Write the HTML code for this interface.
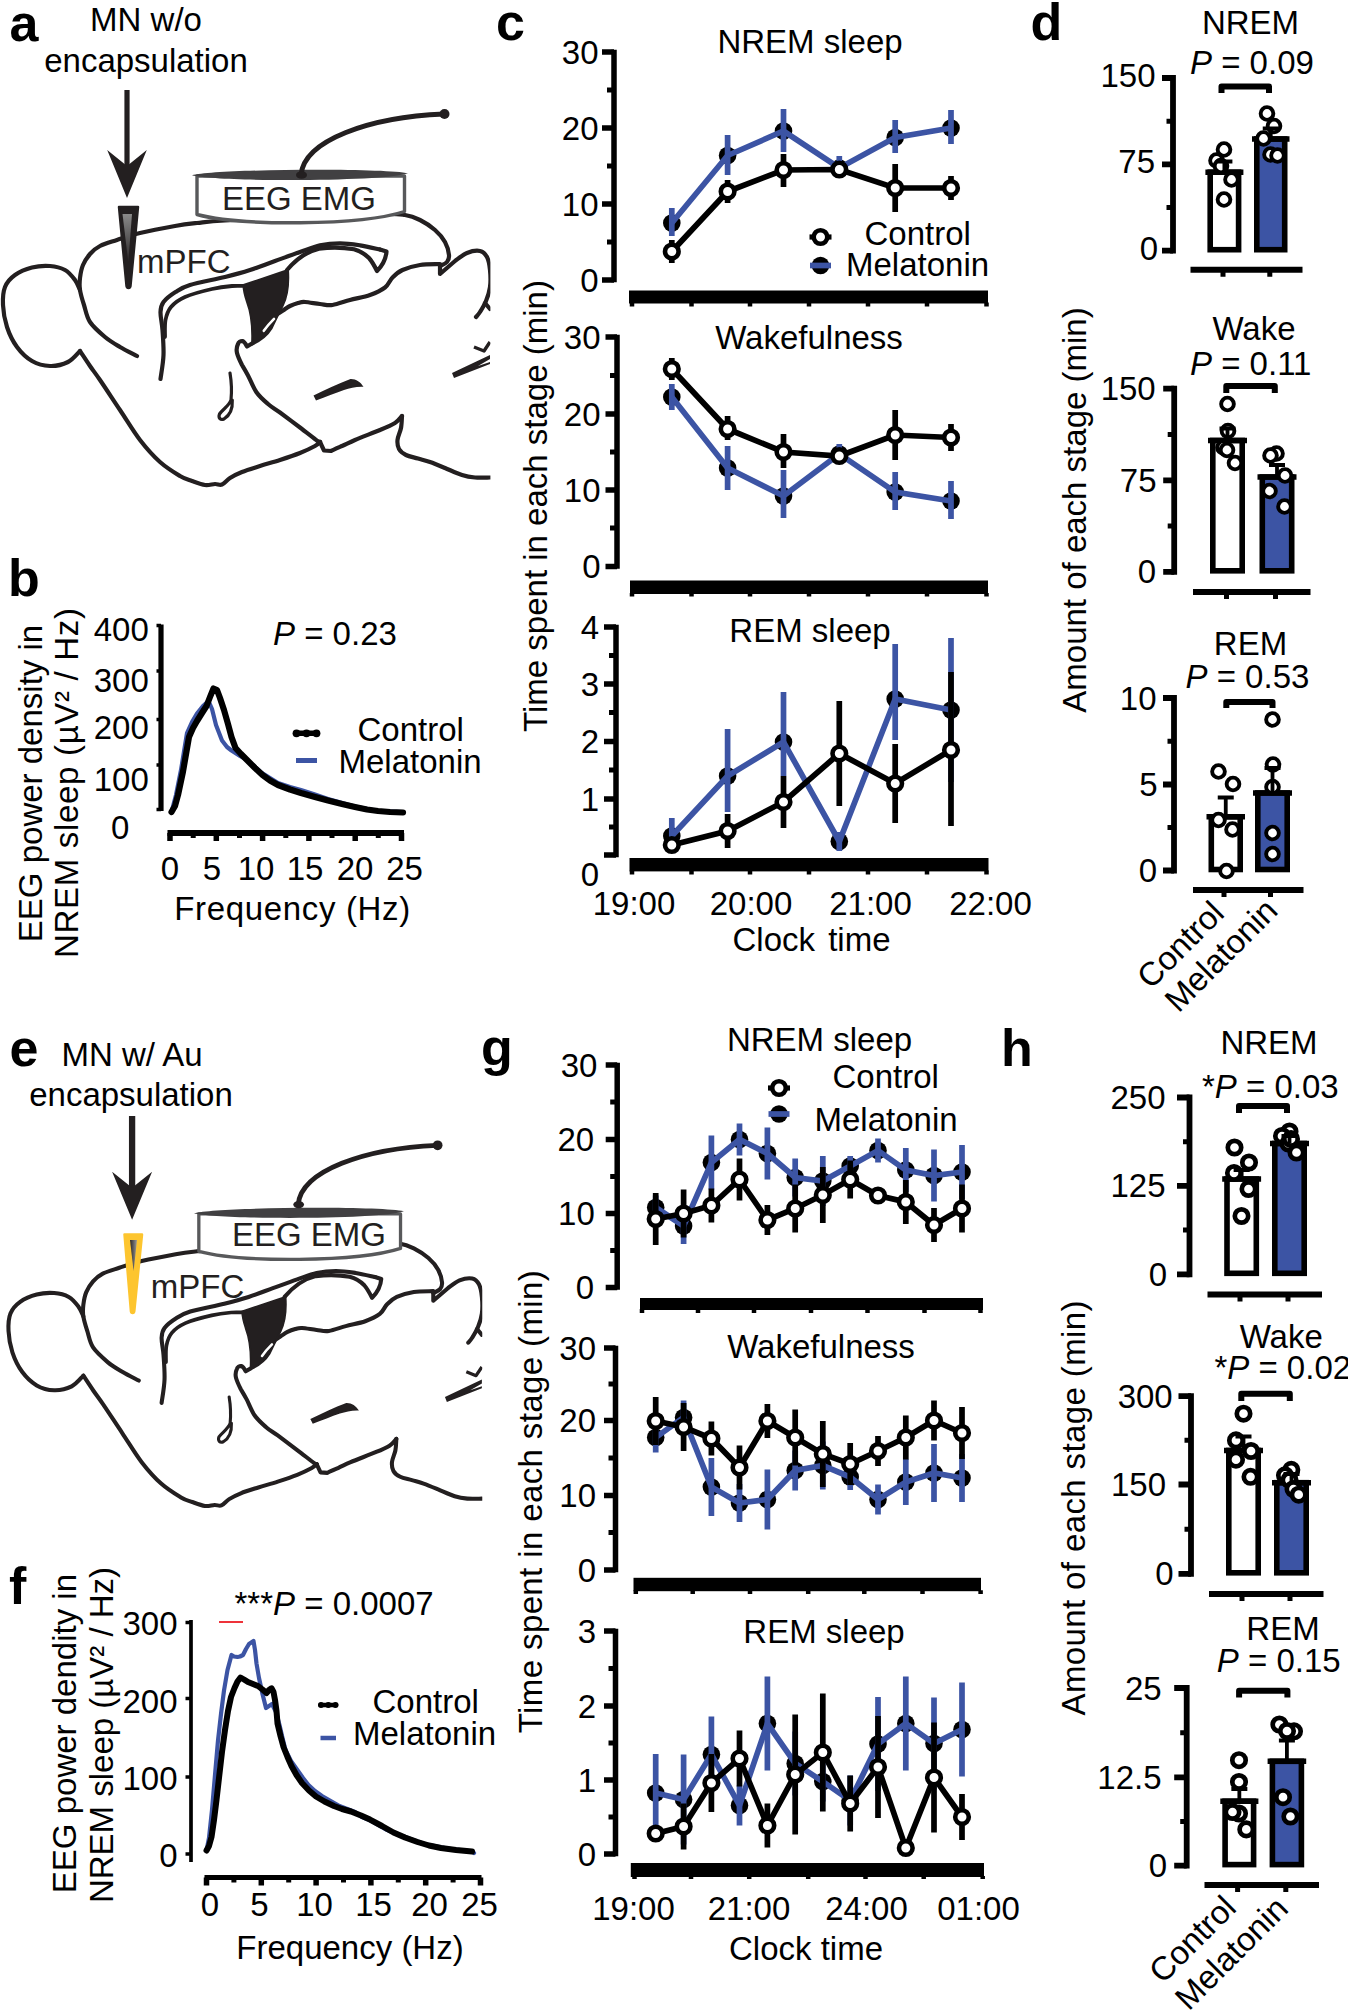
<!DOCTYPE html>
<html><head><meta charset="utf-8"><title>figure</title>
<style>html,body{margin:0;padding:0;background:#fff}svg{display:block}text{font-family:"Liberation Sans",sans-serif;fill:#000}</style>
</head><body>
<svg width="1348" height="2011" viewBox="0 0 1348 2011">
<rect width="1348" height="2011" fill="#fff"/>
<text x="9.5" y="40.5" font-size="52" font-weight="bold">a</text>
<text x="8" y="596" font-size="52" font-weight="bold">b</text>
<text x="496" y="40" font-size="52" font-weight="bold">c</text>
<text x="1030.5" y="40" font-size="52" font-weight="bold">d</text>
<text x="9.5" y="1066" font-size="52" font-weight="bold">e</text>
<text x="9" y="1603.5" font-size="52" font-weight="bold">f</text>
<text x="481" y="1065" font-size="52" font-weight="bold">g</text>
<text x="1001" y="1066" font-size="52" font-weight="bold">h</text>
<g id="panelC">
<path d="M614 49.75V282.25" stroke="#000" stroke-width="5.5" fill="none"/>
<path d="M602 52H614M602 128H614M602 204H614M602 280H614" stroke="#000" stroke-width="5.5" fill="none"/>
<path d="M607 90H614M607 166H614M607 242H614" stroke="#000" stroke-width="5.2" fill="none"/>
<text x="598.5" y="63.5" font-size="33" text-anchor="end">30</text>
<text x="598.5" y="139.5" font-size="33" text-anchor="end">20</text>
<text x="598.5" y="215.5" font-size="33" text-anchor="end">10</text>
<text x="598.5" y="291.5" font-size="33" text-anchor="end">0</text>
<rect x="629" y="290.5" width="359" height="13.0" fill="#000"/>
<path d="M632 302.5V306.5M691.5 302.5V306.5M750 302.5V306.5M809 302.5V306.5M868 302.5V306.5M927 302.5V306.5M986.5 302.5V306.5" stroke="#000" stroke-width="4.5" fill="none"/>
<text x="810" y="53" font-size="33" text-anchor="middle">NREM sleep</text>
<circle cx="671.8" cy="223" r="8.799999999999999" fill="#000"/>
<circle cx="727.6" cy="155.5" r="8.799999999999999" fill="#000"/>
<circle cx="783.5" cy="131" r="8.799999999999999" fill="#000"/>
<circle cx="839.3" cy="168" r="8.799999999999999" fill="#000"/>
<circle cx="895.2" cy="137.5" r="8.799999999999999" fill="#000"/>
<circle cx="951" cy="128" r="8.799999999999999" fill="#000"/>
<path d="M671.8 208V236M727.6 135V175M783.5 109V152M839.3 156V169M895.2 120V153M951 110V144" stroke="#3c54a4" stroke-width="5.7" fill="none"/>
<polyline points="671.8,223 727.6,155.5 783.5,131 839.3,168 895.2,137.5 951,128" stroke="#3c54a4" stroke-width="5.7" fill="none" stroke-linejoin="miter"/>
<path d="M671.8 240V263M727.6 180V203M783.5 154V187M839.3 164V175M895.2 164V212M951 176V200" stroke="#000" stroke-width="5.7" fill="none"/>
<polyline points="671.8,251.5 727.6,191.5 783.5,170 839.3,169.5 895.2,188 951,188" stroke="#000" stroke-width="5.7" fill="none" stroke-linejoin="miter"/>
<circle cx="671.8" cy="251.5" r="6.8" fill="#fff" stroke="#000" stroke-width="4.6"/>
<circle cx="727.6" cy="191.5" r="6.8" fill="#fff" stroke="#000" stroke-width="4.6"/>
<circle cx="783.5" cy="170" r="6.8" fill="#fff" stroke="#000" stroke-width="4.6"/>
<circle cx="839.3" cy="169.5" r="6.8" fill="#fff" stroke="#000" stroke-width="4.6"/>
<circle cx="895.2" cy="188" r="6.8" fill="#fff" stroke="#000" stroke-width="4.6"/>
<circle cx="951" cy="188" r="6.8" fill="#fff" stroke="#000" stroke-width="4.6"/>
<path d="M809.5 237H831.5" stroke="#000" stroke-width="5.2"/>
<circle cx="820.5" cy="237" r="6.8" fill="#fff" stroke="#000" stroke-width="4.6"/>
<circle cx="820.5" cy="265.5" r="8.799999999999999" fill="#000"/>
<path d="M810.0 265.5H831.0" stroke="#3c54a4" stroke-width="5.7"/>
<text x="864.5" y="245" font-size="33">Control</text>
<text x="846" y="275.5" font-size="33">Melatonin</text>
<path d="M617 334.75V568.75" stroke="#000" stroke-width="5.5" fill="none"/>
<path d="M605.5 337H617M605.5 414H617M605.5 490H617M605.5 566.5H617" stroke="#000" stroke-width="5.5" fill="none"/>
<path d="M610 375.5H617M610 452H617M610 528H617" stroke="#000" stroke-width="5.2" fill="none"/>
<text x="600.5" y="348.5" font-size="33" text-anchor="end">30</text>
<text x="600.5" y="425.5" font-size="33" text-anchor="end">20</text>
<text x="600.5" y="501.5" font-size="33" text-anchor="end">10</text>
<text x="600.5" y="578.0" font-size="33" text-anchor="end">0</text>
<rect x="630" y="580.5" width="358" height="13.5" fill="#000"/>
<path d="M632 593V596.5M691.5 593V596.5M750 593V596.5M809 593V596.5M868 593V596.5M927 593V596.5M986.5 593V596.5" stroke="#000" stroke-width="4.5" fill="none"/>
<text x="809" y="349" font-size="33" text-anchor="middle">Wakefulness</text>
<circle cx="671.8" cy="397" r="8.799999999999999" fill="#000"/>
<circle cx="727.6" cy="468" r="8.799999999999999" fill="#000"/>
<circle cx="783.5" cy="496" r="8.799999999999999" fill="#000"/>
<circle cx="839.3" cy="454" r="8.799999999999999" fill="#000"/>
<circle cx="895.2" cy="492" r="8.799999999999999" fill="#000"/>
<circle cx="951" cy="501" r="8.799999999999999" fill="#000"/>
<path d="M671.8 384V410M727.6 446V490M783.5 470V518M839.3 444V460M895.2 472V510M951 481V519" stroke="#3c54a4" stroke-width="5.7" fill="none"/>
<polyline points="671.8,397 727.6,468 783.5,496 839.3,454 895.2,492 951,501" stroke="#3c54a4" stroke-width="5.7" fill="none" stroke-linejoin="miter"/>
<path d="M671.8 358V380M727.6 416V440M783.5 434V468M839.3 450V462M895.2 410V460M951 424V451" stroke="#000" stroke-width="5.7" fill="none"/>
<polyline points="671.8,369 727.6,429 783.5,452 839.3,456 895.2,435 951,437.5" stroke="#000" stroke-width="5.7" fill="none" stroke-linejoin="miter"/>
<circle cx="671.8" cy="369" r="6.8" fill="#fff" stroke="#000" stroke-width="4.6"/>
<circle cx="727.6" cy="429" r="6.8" fill="#fff" stroke="#000" stroke-width="4.6"/>
<circle cx="783.5" cy="452" r="6.8" fill="#fff" stroke="#000" stroke-width="4.6"/>
<circle cx="839.3" cy="456" r="6.8" fill="#fff" stroke="#000" stroke-width="4.6"/>
<circle cx="895.2" cy="435" r="6.8" fill="#fff" stroke="#000" stroke-width="4.6"/>
<circle cx="951" cy="437.5" r="6.8" fill="#fff" stroke="#000" stroke-width="4.6"/>
<path d="M616 624.75V857.25" stroke="#000" stroke-width="5.5" fill="none"/>
<path d="M604 627H616M604 684H616M604 741.5H616M604 799H616M604 855H616" stroke="#000" stroke-width="5.5" fill="none"/>
<path d="M609 655.5H616M609 712.5H616M609 770H616M609 827H616" stroke="#000" stroke-width="5.2" fill="none"/>
<text x="599" y="638.5" font-size="33" text-anchor="end">4</text>
<text x="599" y="695.5" font-size="33" text-anchor="end">3</text>
<text x="599" y="753.0" font-size="33" text-anchor="end">2</text>
<text x="599" y="810.5" font-size="33" text-anchor="end">1</text>
<text x="599" y="885.5" font-size="33" text-anchor="end">0</text>
<rect x="629.5" y="858" width="359.0" height="13.399999999999977" fill="#000"/>
<path d="M632 870.4V874.5M691.5 870.4V874.5M750 870.4V874.5M809 870.4V874.5M868 870.4V874.5M927 870.4V874.5M986.5 870.4V874.5" stroke="#000" stroke-width="4.5" fill="none"/>
<text x="810" y="642" font-size="33" text-anchor="middle">REM sleep</text>
<circle cx="671.8" cy="836" r="8.799999999999999" fill="#000"/>
<circle cx="727.6" cy="776" r="8.799999999999999" fill="#000"/>
<circle cx="783.5" cy="742" r="8.799999999999999" fill="#000"/>
<circle cx="839.3" cy="841.5" r="8.799999999999999" fill="#000"/>
<circle cx="895.2" cy="699" r="8.799999999999999" fill="#000"/>
<circle cx="951" cy="710" r="8.799999999999999" fill="#000"/>
<path d="M671.8 818V840M727.6 729V812M783.5 692V776M839.3 832V851M895.2 644V740M951 638V782" stroke="#3c54a4" stroke-width="5.7" fill="none"/>
<polyline points="671.8,836 727.6,776 783.5,742 839.3,841.5 895.2,699 951,710" stroke="#3c54a4" stroke-width="5.7" fill="none" stroke-linejoin="miter"/>
<path d="M671.8 840V850M727.6 814V848M783.5 776V828M839.3 701V806M895.2 744V823M951 672V826" stroke="#000" stroke-width="5.7" fill="none"/>
<polyline points="671.8,845 727.6,831 783.5,802 839.3,753.5 895.2,783.5 951,750" stroke="#000" stroke-width="5.7" fill="none" stroke-linejoin="miter"/>
<circle cx="671.8" cy="845" r="6.8" fill="#fff" stroke="#000" stroke-width="4.6"/>
<circle cx="727.6" cy="831" r="6.8" fill="#fff" stroke="#000" stroke-width="4.6"/>
<circle cx="783.5" cy="802" r="6.8" fill="#fff" stroke="#000" stroke-width="4.6"/>
<circle cx="839.3" cy="753.5" r="6.8" fill="#fff" stroke="#000" stroke-width="4.6"/>
<circle cx="895.2" cy="783.5" r="6.8" fill="#fff" stroke="#000" stroke-width="4.6"/>
<circle cx="951" cy="750" r="6.8" fill="#fff" stroke="#000" stroke-width="4.6"/>
<text x="634" y="914.5" font-size="33" text-anchor="middle">19:00</text>
<text x="751" y="914.5" font-size="33" text-anchor="middle">20:00</text>
<text x="870.5" y="914.5" font-size="33" text-anchor="middle">21:00</text>
<text x="990.5" y="914.5" font-size="33" text-anchor="middle">22:00</text>
<text x="811.5" y="950.5" font-size="33" text-anchor="middle" word-spacing="4">Clock time</text>
<text x="546.5" y="506" font-size="33" text-anchor="middle" transform="rotate(-90 546.5 506)">Time spent in each stage (min)</text>
</g>
<g id="panelD">
<path d="M1173 75.1V253.6" stroke="#000" stroke-width="5.8" fill="none"/>
<path d="M1162 78H1173M1162 164.3H1173M1162 250.7H1173" stroke="#000" stroke-width="5.8" fill="none"/>
<path d="M1166.5 121.15H1173M1166.5 207.5H1173" stroke="#000" stroke-width="5" fill="none"/>
<text x="1155.5" y="87" font-size="33" text-anchor="end">150</text>
<text x="1155" y="173.3" font-size="33" text-anchor="end">75</text>
<text x="1158" y="259.7" font-size="33" text-anchor="end">0</text>
<path d="M1190.5 269.8H1302.5" stroke="#000" stroke-width="6" fill="none"/>
<path d="M1223 269.8V276.8M1269.8 269.8V276.8" stroke="#000" stroke-width="5" fill="none"/>
<rect x="1210.2" y="172.2" width="28.4" height="77.5" fill="#fff" stroke="#000" stroke-width="5.6"/>
<rect x="1256.8" y="139" width="27.9" height="110.69999999999999" fill="#3c54a4" stroke="#000" stroke-width="5.6"/>
<path d="M1205.4 172.2H1243.4M1252 139H1289.5" stroke="#000" stroke-width="5.6"/>
<path d="M1221.5 93V86.5H1269V93" stroke="#000" stroke-width="6" fill="none" stroke-linejoin="round"/>
<circle cx="1224" cy="149.5" r="6.35" fill="#fff" stroke="#000" stroke-width="3.9"/>
<circle cx="1216.5" cy="160.5" r="6.35" fill="#fff" stroke="#000" stroke-width="3.9"/>
<circle cx="1231.5" cy="179.5" r="6.35" fill="#fff" stroke="#000" stroke-width="3.9"/>
<circle cx="1224" cy="199.5" r="6.35" fill="#fff" stroke="#000" stroke-width="3.9"/>
<circle cx="1221" cy="166" r="6.35" fill="#fff" stroke="#000" stroke-width="3.9"/>
<circle cx="1267" cy="113.5" r="6.35" fill="#fff" stroke="#000" stroke-width="3.9"/>
<circle cx="1274" cy="126" r="6.35" fill="#fff" stroke="#000" stroke-width="3.9"/>
<circle cx="1263.5" cy="138.5" r="6.35" fill="#fff" stroke="#000" stroke-width="3.9"/>
<circle cx="1270.5" cy="154.5" r="6.35" fill="#fff" stroke="#000" stroke-width="3.9"/>
<circle cx="1277.5" cy="155.5" r="6.35" fill="#fff" stroke="#000" stroke-width="3.9"/>
<path d="M1224.4 172.2V161.5M1216.4 161.5H1232.4M1270.75 139V128.5M1262.75 128.5H1278.75" stroke="#000" stroke-width="3.8" fill="none"/>
<text x="1250.5" y="34" font-size="33" text-anchor="middle">NREM</text>
<text x="1190" y="74" font-size="33"><tspan font-style="italic">P</tspan> = 0.09</text>
<path d="M1174.2 385.8V574.6999999999999" stroke="#000" stroke-width="5.8" fill="none"/>
<path d="M1163.2 388.7H1174.2M1163.2 480.3H1174.2M1163.2 571.8H1174.2" stroke="#000" stroke-width="5.8" fill="none"/>
<path d="M1167.7 434.5H1174.2M1167.7 526.05H1174.2" stroke="#000" stroke-width="5" fill="none"/>
<text x="1155.7" y="400.2" font-size="33" text-anchor="end">150</text>
<text x="1156.5" y="491.8" font-size="33" text-anchor="end">75</text>
<text x="1156" y="583.3" font-size="33" text-anchor="end">0</text>
<path d="M1193 592H1310.5" stroke="#000" stroke-width="6" fill="none"/>
<path d="M1226.5 592V599M1275.5 592V599" stroke="#000" stroke-width="5" fill="none"/>
<rect x="1212.8" y="440.5" width="29.4" height="130.29999999999995" fill="#fff" stroke="#000" stroke-width="5.6"/>
<rect x="1262.3" y="477" width="29.4" height="93.79999999999995" fill="#3c54a4" stroke="#000" stroke-width="5.6"/>
<path d="M1208 440.5H1247M1257.5 477H1296.5" stroke="#000" stroke-width="5.6"/>
<path d="M1226.3 393V386H1274.8V393" stroke="#000" stroke-width="6" fill="none" stroke-linejoin="round"/>
<circle cx="1227.5" cy="404" r="6.35" fill="#fff" stroke="#000" stroke-width="3.9"/>
<circle cx="1228" cy="431" r="6.35" fill="#fff" stroke="#000" stroke-width="3.9"/>
<circle cx="1223.5" cy="447.5" r="6.35" fill="#fff" stroke="#000" stroke-width="3.9"/>
<circle cx="1227" cy="450" r="6.35" fill="#fff" stroke="#000" stroke-width="3.9"/>
<circle cx="1235" cy="463" r="6.35" fill="#fff" stroke="#000" stroke-width="3.9"/>
<circle cx="1276.5" cy="453.5" r="6.35" fill="#fff" stroke="#000" stroke-width="3.9"/>
<circle cx="1270.5" cy="455.5" r="6.35" fill="#fff" stroke="#000" stroke-width="3.9"/>
<circle cx="1285" cy="475.5" r="6.35" fill="#fff" stroke="#000" stroke-width="3.9"/>
<circle cx="1269.5" cy="491" r="6.35" fill="#fff" stroke="#000" stroke-width="3.9"/>
<circle cx="1284.5" cy="506.5" r="6.35" fill="#fff" stroke="#000" stroke-width="3.9"/>
<path d="M1227.5 440.5V428.5M1219.5 428.5H1235.5M1277.0 477V465M1269.0 465H1285.0" stroke="#000" stroke-width="3.8" fill="none"/>
<text x="1254" y="340" font-size="33" text-anchor="middle">Wake</text>
<text x="1190" y="374.5" font-size="33"><tspan font-style="italic">P</tspan> = 0.11</text>
<path d="M1174 695.1V873.4" stroke="#000" stroke-width="5.8" fill="none"/>
<path d="M1163 698H1174M1163 784.5H1174M1163 870.5H1174" stroke="#000" stroke-width="5.8" fill="none"/>
<path d="M1167.5 741.25H1174M1167.5 827.5H1174" stroke="#000" stroke-width="5" fill="none"/>
<text x="1156.5" y="709.5" font-size="33" text-anchor="end">10</text>
<text x="1157.5" y="796.0" font-size="33" text-anchor="end">5</text>
<text x="1157" y="882.0" font-size="33" text-anchor="end">0</text>
<path d="M1193 890H1303.5" stroke="#000" stroke-width="6" fill="none"/>
<path d="M1224 890V897M1270.5 890V897" stroke="#000" stroke-width="5" fill="none"/>
<rect x="1211.3" y="816.8" width="28.9" height="52.700000000000045" fill="#fff" stroke="#000" stroke-width="5.6"/>
<rect x="1257.8" y="793" width="29.4" height="76.5" fill="#3c54a4" stroke="#000" stroke-width="5.6"/>
<path d="M1206.5 816.8H1245M1253 793H1292" stroke="#000" stroke-width="5.6"/>
<path d="M1226.3 708V702H1272.5V708" stroke="#000" stroke-width="6" fill="none" stroke-linejoin="round"/>
<circle cx="1218.5" cy="771.5" r="6.35" fill="#fff" stroke="#000" stroke-width="3.9"/>
<circle cx="1233" cy="784" r="6.35" fill="#fff" stroke="#000" stroke-width="3.9"/>
<circle cx="1218.5" cy="820" r="6.35" fill="#fff" stroke="#000" stroke-width="3.9"/>
<circle cx="1232.5" cy="829.5" r="6.35" fill="#fff" stroke="#000" stroke-width="3.9"/>
<circle cx="1226.5" cy="871" r="6.35" fill="#fff" stroke="#000" stroke-width="3.9"/>
<circle cx="1272.5" cy="719.5" r="6.35" fill="#fff" stroke="#000" stroke-width="3.9"/>
<circle cx="1273" cy="764.5" r="6.35" fill="#fff" stroke="#000" stroke-width="3.9"/>
<circle cx="1272.5" cy="787" r="6.35" fill="#fff" stroke="#000" stroke-width="3.9"/>
<circle cx="1272.5" cy="833" r="6.35" fill="#fff" stroke="#000" stroke-width="3.9"/>
<circle cx="1272.5" cy="854" r="6.35" fill="#fff" stroke="#000" stroke-width="3.9"/>
<path d="M1225.75 816.8V797.5M1217.75 797.5H1233.75M1272.5 793V768M1264.5 768H1280.5" stroke="#000" stroke-width="3.8" fill="none"/>
<text x="1250.5" y="655" font-size="33" text-anchor="middle">REM</text>
<text x="1185.5" y="687.5" font-size="33"><tspan font-style="italic">P</tspan> = 0.53</text>
<text x="1226" y="915" font-size="33" text-anchor="end" transform="rotate(-45 1226 915)">Control</text>
<text x="1279.6" y="912.5" font-size="33" text-anchor="end" transform="rotate(-45 1279.6 912.5)">Melatonin</text>
<text x="1085.8" y="510" font-size="33" text-anchor="middle" transform="rotate(-90 1085.8 510)">Amount of each stage (min)</text>
</g>
<g id="panelG">
<path d="M617.2 1062.75V1289.75" stroke="#000" stroke-width="5.5" fill="none"/>
<path d="M605.7 1065H617.2M605.7 1139.5H617.2M605.7 1213.5H617.2M605.7 1287.5H617.2" stroke="#000" stroke-width="5.5" fill="none"/>
<path d="M610.2 1102H617.2M610.2 1176.5H617.2M610.2 1250.5H617.2" stroke="#000" stroke-width="5.2" fill="none"/>
<text x="597.4" y="1076.5" font-size="33" text-anchor="end">30</text>
<text x="594.2" y="1151.0" font-size="33" text-anchor="end">20</text>
<text x="594.8" y="1225.0" font-size="33" text-anchor="end">10</text>
<text x="594.2" y="1299.0" font-size="33" text-anchor="end">0</text>
<rect x="640" y="1298" width="343" height="12" fill="#000"/>
<path d="M642 1309V1313M698 1309V1313M754 1309V1313M811 1309V1313M867.5 1309V1313M924.5 1309V1313M980.5 1309V1313" stroke="#000" stroke-width="4.5" fill="none"/>
<text x="819.5" y="1050.5" font-size="33" text-anchor="middle">NREM sleep</text>
<circle cx="655.7" cy="1207.5" r="8.799999999999999" fill="#000"/>
<circle cx="683.6" cy="1226" r="8.799999999999999" fill="#000"/>
<circle cx="711.4" cy="1162.5" r="8.799999999999999" fill="#000"/>
<circle cx="739.5" cy="1139.5" r="8.799999999999999" fill="#000"/>
<circle cx="767.4" cy="1153.5" r="8.799999999999999" fill="#000"/>
<circle cx="795.2" cy="1177.5" r="8.799999999999999" fill="#000"/>
<circle cx="822.8" cy="1181" r="8.799999999999999" fill="#000"/>
<circle cx="850.2" cy="1166" r="8.799999999999999" fill="#000"/>
<circle cx="878" cy="1150.5" r="8.799999999999999" fill="#000"/>
<circle cx="905.8" cy="1170" r="8.799999999999999" fill="#000"/>
<circle cx="934" cy="1175.5" r="8.799999999999999" fill="#000"/>
<circle cx="962" cy="1172" r="8.799999999999999" fill="#000"/>
<path d="M655.7 1195.5V1219.5M683.6 1208V1244M711.4 1135.5V1189.5M739.5 1123.5V1155.5M767.4 1127.5V1179.5M795.2 1158.5V1196.5M822.8 1156V1206M850.2 1156V1176M878 1138.5V1162.5M905.8 1148V1192M934 1149.5V1201.5M962 1145V1199" stroke="#3c54a4" stroke-width="5.7" fill="none"/>
<polyline points="655.7,1207.5 683.6,1226 711.4,1162.5 739.5,1139.5 767.4,1153.5 795.2,1177.5 822.8,1181 850.2,1166 878,1150.5 905.8,1170 934,1175.5 962,1172" stroke="#3c54a4" stroke-width="5.7" fill="none" stroke-linejoin="miter"/>
<path d="M655.7 1193V1245M683.6 1189.5V1237.5M711.4 1188.5V1222.5M739.5 1158.5V1200.5M767.4 1205V1235M795.2 1184.5V1232.5M822.8 1167V1223M850.2 1160.5V1198.5M878 1189.5V1201.5M905.8 1180V1224M934 1208V1242M962 1184.5V1232.5" stroke="#000" stroke-width="5.7" fill="none"/>
<polyline points="655.7,1219 683.6,1213.5 711.4,1205.5 739.5,1179.5 767.4,1220 795.2,1208.5 822.8,1195 850.2,1179.5 878,1195.5 905.8,1202 934,1225 962,1208.5" stroke="#000" stroke-width="5.7" fill="none" stroke-linejoin="miter"/>
<circle cx="655.7" cy="1219" r="6.8" fill="#fff" stroke="#000" stroke-width="4.6"/>
<circle cx="683.6" cy="1213.5" r="6.8" fill="#fff" stroke="#000" stroke-width="4.6"/>
<circle cx="711.4" cy="1205.5" r="6.8" fill="#fff" stroke="#000" stroke-width="4.6"/>
<circle cx="739.5" cy="1179.5" r="6.8" fill="#fff" stroke="#000" stroke-width="4.6"/>
<circle cx="767.4" cy="1220" r="6.8" fill="#fff" stroke="#000" stroke-width="4.6"/>
<circle cx="795.2" cy="1208.5" r="6.8" fill="#fff" stroke="#000" stroke-width="4.6"/>
<circle cx="822.8" cy="1195" r="6.8" fill="#fff" stroke="#000" stroke-width="4.6"/>
<circle cx="850.2" cy="1179.5" r="6.8" fill="#fff" stroke="#000" stroke-width="4.6"/>
<circle cx="878" cy="1195.5" r="6.8" fill="#fff" stroke="#000" stroke-width="4.6"/>
<circle cx="905.8" cy="1202" r="6.8" fill="#fff" stroke="#000" stroke-width="4.6"/>
<circle cx="934" cy="1225" r="6.8" fill="#fff" stroke="#000" stroke-width="4.6"/>
<circle cx="962" cy="1208.5" r="6.8" fill="#fff" stroke="#000" stroke-width="4.6"/>
<path d="M768 1088H790" stroke="#000" stroke-width="5.2"/>
<circle cx="779" cy="1088" r="6.8" fill="#fff" stroke="#000" stroke-width="4.6"/>
<circle cx="779" cy="1114" r="8.799999999999999" fill="#000"/>
<path d="M768.5 1114H789.5" stroke="#3c54a4" stroke-width="5.7"/>
<text x="832.5" y="1088" font-size="33">Control</text>
<text x="814.5" y="1130.5" font-size="33">Melatonin</text>
<path d="M615.5 1345.75V1572.25" stroke="#000" stroke-width="5.5" fill="none"/>
<path d="M604.0 1348H615.5M604.0 1420.5H615.5M604.0 1495.5H615.5M604.0 1570H615.5" stroke="#000" stroke-width="5.5" fill="none"/>
<path d="M608.5 1384H615.5M608.5 1458H615.5M608.5 1532.5H615.5" stroke="#000" stroke-width="5.2" fill="none"/>
<text x="596" y="1359.5" font-size="33" text-anchor="end">30</text>
<text x="596" y="1432.0" font-size="33" text-anchor="end">20</text>
<text x="596" y="1507.0" font-size="33" text-anchor="end">10</text>
<text x="596" y="1581.5" font-size="33" text-anchor="end">0</text>
<rect x="633.5" y="1577.8" width="347.5" height="13.400000000000091" fill="#000"/>
<path d="M635.8 1590.2V1594M692.7 1590.2V1594M750 1590.2V1594M808.2 1590.2V1594M864.3 1590.2V1594M922.5 1590.2V1594M980.6 1590.2V1594" stroke="#000" stroke-width="4.5" fill="none"/>
<text x="821" y="1358" font-size="33" text-anchor="middle">Wakefulness</text>
<circle cx="655.7" cy="1437.5" r="8.799999999999999" fill="#000"/>
<circle cx="683.6" cy="1417.5" r="8.799999999999999" fill="#000"/>
<circle cx="711.4" cy="1487" r="8.799999999999999" fill="#000"/>
<circle cx="739.5" cy="1503" r="8.799999999999999" fill="#000"/>
<circle cx="767.4" cy="1499.5" r="8.799999999999999" fill="#000"/>
<circle cx="795.2" cy="1470.5" r="8.799999999999999" fill="#000"/>
<circle cx="822.8" cy="1465.5" r="8.799999999999999" fill="#000"/>
<circle cx="850.2" cy="1477" r="8.799999999999999" fill="#000"/>
<circle cx="878" cy="1499.5" r="8.799999999999999" fill="#000"/>
<circle cx="905.8" cy="1482" r="8.799999999999999" fill="#000"/>
<circle cx="934" cy="1473" r="8.799999999999999" fill="#000"/>
<circle cx="962" cy="1478" r="8.799999999999999" fill="#000"/>
<path d="M655.7 1422.5V1452.5M683.6 1400.5V1434.5M711.4 1458V1516M739.5 1484V1522M767.4 1469.5V1529.5M795.2 1450.5V1490.5M822.8 1441.5V1489.5M850.2 1464V1490M878 1484.5V1514.5M905.8 1459V1505M934 1444V1502M962 1454V1502" stroke="#3c54a4" stroke-width="5.7" fill="none"/>
<polyline points="655.7,1437.5 683.6,1417.5 711.4,1487 739.5,1503 767.4,1499.5 795.2,1470.5 822.8,1465.5 850.2,1477 878,1499.5 905.8,1482 934,1473 962,1478" stroke="#3c54a4" stroke-width="5.7" fill="none" stroke-linejoin="miter"/>
<path d="M655.7 1397V1445M683.6 1403V1451M711.4 1421.5V1455.5M739.5 1445.5V1489.5M767.4 1404V1438M795.2 1409.5V1465.5M822.8 1421V1487M850.2 1443V1485M878 1436V1466M905.8 1415.5V1459.5M934 1400.5V1440.5M962 1407V1459" stroke="#000" stroke-width="5.7" fill="none"/>
<polyline points="655.7,1421 683.6,1427 711.4,1438.5 739.5,1467.5 767.4,1421 795.2,1437.5 822.8,1454 850.2,1464 878,1451 905.8,1437.5 934,1420.5 962,1433" stroke="#000" stroke-width="5.7" fill="none" stroke-linejoin="miter"/>
<circle cx="655.7" cy="1421" r="6.8" fill="#fff" stroke="#000" stroke-width="4.6"/>
<circle cx="683.6" cy="1427" r="6.8" fill="#fff" stroke="#000" stroke-width="4.6"/>
<circle cx="711.4" cy="1438.5" r="6.8" fill="#fff" stroke="#000" stroke-width="4.6"/>
<circle cx="739.5" cy="1467.5" r="6.8" fill="#fff" stroke="#000" stroke-width="4.6"/>
<circle cx="767.4" cy="1421" r="6.8" fill="#fff" stroke="#000" stroke-width="4.6"/>
<circle cx="795.2" cy="1437.5" r="6.8" fill="#fff" stroke="#000" stroke-width="4.6"/>
<circle cx="822.8" cy="1454" r="6.8" fill="#fff" stroke="#000" stroke-width="4.6"/>
<circle cx="850.2" cy="1464" r="6.8" fill="#fff" stroke="#000" stroke-width="4.6"/>
<circle cx="878" cy="1451" r="6.8" fill="#fff" stroke="#000" stroke-width="4.6"/>
<circle cx="905.8" cy="1437.5" r="6.8" fill="#fff" stroke="#000" stroke-width="4.6"/>
<circle cx="934" cy="1420.5" r="6.8" fill="#fff" stroke="#000" stroke-width="4.6"/>
<circle cx="962" cy="1433" r="6.8" fill="#fff" stroke="#000" stroke-width="4.6"/>
<path d="M615.5 1628.75V1856.25" stroke="#000" stroke-width="5.5" fill="none"/>
<path d="M604.0 1631H615.5M604.0 1706H615.5M604.0 1780H615.5M604.0 1854H615.5" stroke="#000" stroke-width="5.5" fill="none"/>
<path d="M608.5 1668.5H615.5M608.5 1743H615.5M608.5 1817H615.5" stroke="#000" stroke-width="5.2" fill="none"/>
<text x="596" y="1642.5" font-size="33" text-anchor="end">3</text>
<text x="596" y="1717.5" font-size="33" text-anchor="end">2</text>
<text x="596" y="1791.5" font-size="33" text-anchor="end">1</text>
<text x="596" y="1865.5" font-size="33" text-anchor="end">0</text>
<rect x="630.8" y="1863" width="353.20000000000005" height="14" fill="#000"/>
<path d="M634.5 1876V1879M691 1876V1879M749.2 1876V1879M808.2 1876V1879M865.5 1876V1879M923.7 1876V1879M982.7 1876V1879" stroke="#000" stroke-width="4.5" fill="none"/>
<text x="824" y="1643" font-size="33" text-anchor="middle">REM sleep</text>
<circle cx="655.7" cy="1793" r="8.799999999999999" fill="#000"/>
<circle cx="683.6" cy="1799.5" r="8.799999999999999" fill="#000"/>
<circle cx="711.4" cy="1754.5" r="8.799999999999999" fill="#000"/>
<circle cx="739.5" cy="1805.5" r="8.799999999999999" fill="#000"/>
<circle cx="767.4" cy="1723.5" r="8.799999999999999" fill="#000"/>
<circle cx="795.2" cy="1763.5" r="8.799999999999999" fill="#000"/>
<circle cx="822.8" cy="1781.5" r="8.799999999999999" fill="#000"/>
<circle cx="850.2" cy="1800.5" r="8.799999999999999" fill="#000"/>
<circle cx="878" cy="1744" r="8.799999999999999" fill="#000"/>
<circle cx="905.8" cy="1723.5" r="8.799999999999999" fill="#000"/>
<circle cx="934" cy="1743.5" r="8.799999999999999" fill="#000"/>
<circle cx="962" cy="1729.5" r="8.799999999999999" fill="#000"/>
<path d="M655.7 1754V1832M683.6 1754.5V1844.5M711.4 1716.5V1792.5M739.5 1785.5V1825.5M767.4 1676.5V1770.5M795.2 1731.5V1795.5M822.8 1761.5V1801.5M850.2 1775.5V1825.5M878 1697V1791M905.8 1676.5V1770.5M934 1697.5V1789.5M962 1682.5V1776.5" stroke="#3c54a4" stroke-width="5.7" fill="none"/>
<polyline points="655.7,1793 683.6,1799.5 711.4,1754.5 739.5,1805.5 767.4,1723.5 795.2,1763.5 822.8,1781.5 850.2,1800.5 878,1744 905.8,1723.5 934,1743.5 962,1729.5" stroke="#3c54a4" stroke-width="5.7" fill="none" stroke-linejoin="miter"/>
<path d="M655.7 1828.5V1838.5M683.6 1803.5V1849.5M711.4 1754V1812M739.5 1730.5V1786.5M767.4 1803.5V1847.5M795.2 1714.5V1834.5M822.8 1693.5V1811.5M850.2 1775.5V1831.5M878 1716V1818M905.8 1843V1853M934 1722.5V1832.5M962 1794V1840" stroke="#000" stroke-width="5.7" fill="none"/>
<polyline points="655.7,1833.5 683.6,1826.5 711.4,1783 739.5,1758.5 767.4,1825.5 795.2,1774.5 822.8,1752.5 850.2,1803.5 878,1767 905.8,1848 934,1777.5 962,1817" stroke="#000" stroke-width="5.7" fill="none" stroke-linejoin="miter"/>
<circle cx="655.7" cy="1833.5" r="6.8" fill="#fff" stroke="#000" stroke-width="4.6"/>
<circle cx="683.6" cy="1826.5" r="6.8" fill="#fff" stroke="#000" stroke-width="4.6"/>
<circle cx="711.4" cy="1783" r="6.8" fill="#fff" stroke="#000" stroke-width="4.6"/>
<circle cx="739.5" cy="1758.5" r="6.8" fill="#fff" stroke="#000" stroke-width="4.6"/>
<circle cx="767.4" cy="1825.5" r="6.8" fill="#fff" stroke="#000" stroke-width="4.6"/>
<circle cx="795.2" cy="1774.5" r="6.8" fill="#fff" stroke="#000" stroke-width="4.6"/>
<circle cx="822.8" cy="1752.5" r="6.8" fill="#fff" stroke="#000" stroke-width="4.6"/>
<circle cx="850.2" cy="1803.5" r="6.8" fill="#fff" stroke="#000" stroke-width="4.6"/>
<circle cx="878" cy="1767" r="6.8" fill="#fff" stroke="#000" stroke-width="4.6"/>
<circle cx="905.8" cy="1848" r="6.8" fill="#fff" stroke="#000" stroke-width="4.6"/>
<circle cx="934" cy="1777.5" r="6.8" fill="#fff" stroke="#000" stroke-width="4.6"/>
<circle cx="962" cy="1817" r="6.8" fill="#fff" stroke="#000" stroke-width="4.6"/>
<text x="633.5" y="1919.7" font-size="33" text-anchor="middle">19:00</text>
<text x="749" y="1919.7" font-size="33" text-anchor="middle">21:00</text>
<text x="866.5" y="1919.7" font-size="33" text-anchor="middle">24:00</text>
<text x="978.5" y="1919.7" font-size="33" text-anchor="middle">01:00</text>
<text x="806" y="1959.5" font-size="33" text-anchor="middle">Clock time</text>
<text x="542.5" y="1501.7" font-size="33" text-anchor="middle" transform="rotate(-90 542.5 1501.7)" textLength="463">Time spent in each stage (min)</text>
</g>
<g id="panelH">
<path d="M1189.5 1094.6V1277.2" stroke="#000" stroke-width="5.8" fill="none"/>
<path d="M1177.0 1097.5H1189.5M1177.0 1185.8H1189.5M1177.0 1274.3H1189.5" stroke="#000" stroke-width="5.8" fill="none"/>
<path d="M1183.0 1141.65H1189.5M1183.0 1230.05H1189.5" stroke="#000" stroke-width="5" fill="none"/>
<text x="1165.5" y="1109.0" font-size="33" text-anchor="end">250</text>
<text x="1165.5" y="1197.3" font-size="33" text-anchor="end">125</text>
<text x="1167" y="1285.8" font-size="33" text-anchor="end">0</text>
<path d="M1207.5 1294.5H1322" stroke="#000" stroke-width="6" fill="none"/>
<path d="M1240 1294.5V1301.5M1288 1294.5V1301.5" stroke="#000" stroke-width="5" fill="none"/>
<rect x="1227.0" y="1179" width="29.299999999999862" height="94.29999999999995" fill="#fff" stroke="#000" stroke-width="5.6"/>
<rect x="1274.8" y="1143.5" width="29.4" height="129.79999999999995" fill="#3c54a4" stroke="#000" stroke-width="5.6"/>
<path d="M1222.2 1179H1261.1M1270 1143.5H1309" stroke="#000" stroke-width="5.6"/>
<path d="M1239 1113V1106H1287V1113" stroke="#000" stroke-width="6" fill="none" stroke-linejoin="round"/>
<circle cx="1234.5" cy="1147.5" r="6.7" fill="#fff" stroke="#000" stroke-width="4.7"/>
<circle cx="1249" cy="1162.5" r="6.7" fill="#fff" stroke="#000" stroke-width="4.7"/>
<circle cx="1234" cy="1173" r="6.7" fill="#fff" stroke="#000" stroke-width="4.7"/>
<circle cx="1248.5" cy="1189" r="6.7" fill="#fff" stroke="#000" stroke-width="4.7"/>
<circle cx="1241.5" cy="1216" r="6.7" fill="#fff" stroke="#000" stroke-width="4.7"/>
<circle cx="1289.5" cy="1131.5" r="6.7" fill="#fff" stroke="#000" stroke-width="4.7"/>
<circle cx="1282" cy="1136" r="6.7" fill="#fff" stroke="#000" stroke-width="4.7"/>
<circle cx="1288.5" cy="1143.5" r="6.7" fill="#fff" stroke="#000" stroke-width="4.7"/>
<circle cx="1296.5" cy="1152.5" r="6.7" fill="#fff" stroke="#000" stroke-width="4.7"/>
<circle cx="1291" cy="1139" r="6.7" fill="#fff" stroke="#000" stroke-width="4.7"/>
<path d="M1241.65 1179V1170M1233.65 1170H1249.65M1289.5 1143.5V1136M1281.5 1136H1297.5" stroke="#000" stroke-width="3.8" fill="none"/>
<text x="1269" y="1053.5" font-size="33" text-anchor="middle">NREM</text>
<text x="1202" y="1097.5" font-size="33"><tspan>*</tspan><tspan font-style="italic">P</tspan> = 0.03</text>
<path d="M1191 1393.3V1576.7" stroke="#000" stroke-width="5.8" fill="none"/>
<path d="M1178.5 1396.2H1191M1178.5 1484.5H1191M1178.5 1573.8H1191" stroke="#000" stroke-width="5.8" fill="none"/>
<path d="M1184.5 1440.35H1191M1184.5 1529.15H1191" stroke="#000" stroke-width="5" fill="none"/>
<text x="1172.7" y="1407.7" font-size="33" text-anchor="end">300</text>
<text x="1166" y="1496.0" font-size="33" text-anchor="end">150</text>
<text x="1173.6" y="1585.3" font-size="33" text-anchor="end">0</text>
<path d="M1209 1594H1323.5" stroke="#000" stroke-width="6" fill="none"/>
<path d="M1242 1594V1601M1290 1594V1601" stroke="#000" stroke-width="5" fill="none"/>
<rect x="1228.8" y="1450.5" width="29.4" height="122.29999999999995" fill="#fff" stroke="#000" stroke-width="5.6"/>
<rect x="1276.8" y="1482.7" width="29.4" height="90.09999999999991" fill="#3c54a4" stroke="#000" stroke-width="5.6"/>
<path d="M1224 1450.5H1263M1272 1482.7H1311" stroke="#000" stroke-width="5.6"/>
<path d="M1241.3 1401V1393.8H1289.8V1401" stroke="#000" stroke-width="6" fill="none" stroke-linejoin="round"/>
<circle cx="1243.5" cy="1413.7" r="6.7" fill="#fff" stroke="#000" stroke-width="4.7"/>
<circle cx="1236" cy="1440.4" r="6.7" fill="#fff" stroke="#000" stroke-width="4.7"/>
<circle cx="1251" cy="1451" r="6.7" fill="#fff" stroke="#000" stroke-width="4.7"/>
<circle cx="1236" cy="1459.7" r="6.7" fill="#fff" stroke="#000" stroke-width="4.7"/>
<circle cx="1250.5" cy="1476.8" r="6.7" fill="#fff" stroke="#000" stroke-width="4.7"/>
<circle cx="1291.3" cy="1469.8" r="6.7" fill="#fff" stroke="#000" stroke-width="4.7"/>
<circle cx="1285" cy="1475.3" r="6.7" fill="#fff" stroke="#000" stroke-width="4.7"/>
<circle cx="1289.5" cy="1480" r="6.7" fill="#fff" stroke="#000" stroke-width="4.7"/>
<circle cx="1293.5" cy="1489" r="6.7" fill="#fff" stroke="#000" stroke-width="4.7"/>
<circle cx="1298.7" cy="1494.7" r="6.7" fill="#fff" stroke="#000" stroke-width="4.7"/>
<path d="M1243.5 1450.5V1436.5M1235.5 1436.5H1251.5M1291.5 1482.7V1474M1283.5 1474H1299.5" stroke="#000" stroke-width="3.8" fill="none"/>
<text x="1281.2" y="1348.4" font-size="33" text-anchor="middle">Wake</text>
<text x="1214.4" y="1379.3" font-size="33"><tspan>*</tspan><tspan font-style="italic">P</tspan> = 0.02</text>
<path d="M1186.7 1685.1V1868.5" stroke="#000" stroke-width="5.8" fill="none"/>
<path d="M1174.2 1688H1186.7M1174.2 1777.3H1186.7M1174.2 1865.6H1186.7" stroke="#000" stroke-width="5.8" fill="none"/>
<path d="M1180.2 1732.65H1186.7M1180.2 1821.4499999999998H1186.7" stroke="#000" stroke-width="5" fill="none"/>
<text x="1161.6" y="1699.5" font-size="33" text-anchor="end">25</text>
<text x="1161.6" y="1788.8" font-size="33" text-anchor="end">12.5</text>
<text x="1167.2" y="1877.1" font-size="33" text-anchor="end">0</text>
<path d="M1204.5 1885H1319" stroke="#000" stroke-width="6" fill="none"/>
<path d="M1237.6 1885V1892M1285.8 1885V1892" stroke="#000" stroke-width="5" fill="none"/>
<rect x="1225.1" y="1801.2" width="28.500000000000135" height="63.399999999999864" fill="#fff" stroke="#000" stroke-width="5.6"/>
<rect x="1272.3999999999999" y="1761.3" width="29.000000000000135" height="103.29999999999995" fill="#3c54a4" stroke="#000" stroke-width="5.6"/>
<path d="M1220.3 1801.2H1258.4M1267.6 1761.3H1306.2" stroke="#000" stroke-width="5.6"/>
<path d="M1239.1 1697.5V1690.8H1287.4V1697.5" stroke="#000" stroke-width="6" fill="none" stroke-linejoin="round"/>
<circle cx="1239" cy="1760.2" r="6.7" fill="#fff" stroke="#000" stroke-width="4.7"/>
<circle cx="1239" cy="1782" r="6.7" fill="#fff" stroke="#000" stroke-width="4.7"/>
<circle cx="1239" cy="1813.5" r="6.7" fill="#fff" stroke="#000" stroke-width="4.7"/>
<circle cx="1232.5" cy="1812" r="6.7" fill="#fff" stroke="#000" stroke-width="4.7"/>
<circle cx="1246.3" cy="1829.4" r="6.7" fill="#fff" stroke="#000" stroke-width="4.7"/>
<circle cx="1279.4" cy="1724.5" r="6.7" fill="#fff" stroke="#000" stroke-width="4.7"/>
<circle cx="1294" cy="1731.3" r="6.7" fill="#fff" stroke="#000" stroke-width="4.7"/>
<circle cx="1287" cy="1731" r="6.7" fill="#fff" stroke="#000" stroke-width="4.7"/>
<circle cx="1283" cy="1797.2" r="6.7" fill="#fff" stroke="#000" stroke-width="4.7"/>
<circle cx="1290.4" cy="1816.5" r="6.7" fill="#fff" stroke="#000" stroke-width="4.7"/>
<path d="M1239.35 1801.2V1789M1231.35 1789H1247.35M1286.9 1761.3V1740.5M1278.9 1740.5H1294.9" stroke="#000" stroke-width="3.8" fill="none"/>
<text x="1283" y="1639.5" font-size="33" text-anchor="middle">REM</text>
<text x="1216.8" y="1672.4" font-size="33"><tspan font-style="italic">P</tspan> = 0.15</text>
<text x="1238" y="1909.5" font-size="33" text-anchor="end" transform="rotate(-45 1238 1909.5)">Control</text>
<text x="1290" y="1910.5" font-size="33" text-anchor="end" transform="rotate(-45 1290 1910.5)">Melatonin</text>
<text x="1085.3" y="1508" font-size="33" text-anchor="middle" transform="rotate(-90 1085.3 1508)" textLength="415">Amount of each stage (min)</text>
</g>
<g id="panelB">
<path d="M161 624.5V811" stroke="#000" stroke-width="5.2" fill="none"/>
<path d="M156.5 625.5H161M156.5 671H161M156.5 719.5H161M156.5 765H161M156.5 809.5H161" stroke="#000" stroke-width="3.6" fill="none"/>
<text x="148.8" y="641.4000000000001" font-size="33" text-anchor="end">400</text>
<text x="148.8" y="691.7" font-size="33" text-anchor="end">300</text>
<text x="148.8" y="739.3000000000001" font-size="33" text-anchor="end">200</text>
<text x="148.8" y="790.7" font-size="33" text-anchor="end">100</text>
<text x="120.2" y="839.1" font-size="33" text-anchor="middle">0</text>
<path d="M167.5 833H404" stroke="#000" stroke-width="6.2" fill="none"/>
<path d="M170 833V841M216.3 833V841M262.6 833V841M308.9 833V841M355.2 833V841M401.5 833V841" stroke="#000" stroke-width="5.5" fill="none"/>
<path d="M193.2 833V838M239.5 833V838M285.8 833V838M332.0 833V838M378.3 833V838" stroke="#000" stroke-width="5" fill="none"/>
<text x="170" y="879.5" font-size="33" text-anchor="middle">0</text>
<text x="212" y="879.5" font-size="33" text-anchor="middle">5</text>
<text x="256" y="879.5" font-size="33" text-anchor="middle">10</text>
<text x="305" y="879.5" font-size="33" text-anchor="middle">15</text>
<text x="355" y="879.5" font-size="33" text-anchor="middle">20</text>
<text x="404.5" y="879.5" font-size="33" text-anchor="middle">25</text>
<text x="292.2" y="920" font-size="33" text-anchor="middle" textLength="236">Frequency (Hz)</text>
<text x="273" y="645" font-size="33"><tspan font-style="italic">P</tspan> = 0.23</text>
<path d="M171.5 812 L176 795 L181 770 L187 733 L192 722 L197 713.5 L203 706 L208.5 701 L212 709 L216 725 L222 740.5 L227 747 L231.5 750.5 L240 756 L247 760 L262 773 L278 783 L290 787 L301 790 L315 794.5 L328 799 L355 806.5 L378 811 L403 812" stroke="#3c54a4" stroke-width="4.2" fill="none" stroke-linejoin="round" stroke-linecap="round"/>
<path d="M171.5 812 L175 806 L178 795 L183 771.5 L189 737 L193 728 L197 721 L202 713 L206.5 706 L210 697 L213.5 688.5 L217 690 L220 698 L224 710 L228 724 L231.5 737 L235.5 748 L241 754 L247 760 L255 768 L262.5 775 L270 780.5 L278 785 L290 789.5 L301 793 L315 797 L328 800.5 L342 804 L355 807 L367 809.5 L378 811 L390 812 L403 812.5" stroke="#000" stroke-width="6.2" fill="none" stroke-linejoin="round" stroke-linecap="round"/>
<path d="M296 733.3H317" stroke="#000" stroke-width="5.6" stroke-linecap="round"/>
<circle cx="296.5" cy="733.3" r="3.9" fill="#000"/>
<circle cx="306.5" cy="733.3" r="3.9" fill="#000"/>
<circle cx="316.5" cy="733.3" r="3.9" fill="#000"/>
<path d="M296 760.5H317" stroke="#3c54a4" stroke-width="5"/>
<text x="357.5" y="740.5" font-size="33">Control</text>
<text x="338.5" y="772.5" font-size="33">Melatonin</text>
<text x="41.7" y="783.5" font-size="33" text-anchor="middle" transform="rotate(-90 41.7 783.5)">EEG power density in</text>
<text x="78.1" y="783" font-size="33" text-anchor="middle" transform="rotate(-90 78.1 783)" textLength="350">NREM sleep (µV² / Hz)</text>
</g>
<g id="panelF">
<path d="M191 1620V1862" stroke="#000" stroke-width="3.7" fill="none"/>
<path d="M185.5 1622.5H191M185.5 1698.5H191M185.5 1777H191M185.5 1854H191" stroke="#000" stroke-width="3.6" fill="none"/>
<text x="177.5" y="1635.3" font-size="33" text-anchor="end">300</text>
<text x="177.5" y="1713.0" font-size="33" text-anchor="end">200</text>
<text x="177.5" y="1789.9" font-size="33" text-anchor="end">100</text>
<text x="177.5" y="1867.2" font-size="33" text-anchor="end">0</text>
<path d="M204.5 1877.5H481.5" stroke="#000" stroke-width="5.2" fill="none"/>
<path d="M206.5 1877.5V1885.5M261.3 1877.5V1885.5M316.1 1877.5V1885.5M370.9 1877.5V1885.5M425.7 1877.5V1885.5M480.5 1877.5V1885.5" stroke="#000" stroke-width="5.5" fill="none"/>
<path d="M233.9 1877.5V1882.5M288.7 1877.5V1882.5M343.5 1877.5V1882.5M398.3 1877.5V1882.5M453.1 1877.5V1882.5" stroke="#000" stroke-width="5" fill="none"/>
<text x="210" y="1916" font-size="33" text-anchor="middle">0</text>
<text x="259.5" y="1916" font-size="33" text-anchor="middle">5</text>
<text x="314.5" y="1916" font-size="33" text-anchor="middle">10</text>
<text x="373.5" y="1916" font-size="33" text-anchor="middle">15</text>
<text x="429.5" y="1916" font-size="33" text-anchor="middle">20</text>
<text x="479.5" y="1916" font-size="33" text-anchor="middle">25</text>
<text x="350" y="1958.5" font-size="33" text-anchor="middle">Frequency (Hz)</text>
<text x="234.5" y="1615" font-size="33">***<tspan font-style="italic">P</tspan> = 0.0007</text>
<path d="M219 1622H243" stroke="#ed1c24" stroke-width="1.8"/>
<path d="M206.5 1850.5 L209 1838 L212 1810 L215 1775 L218 1740.5 L221 1714 L224 1690.5 L227.5 1670 L231.5 1655 L234 1656.5 L237.5 1657 L240 1656.5 L243 1655 L246 1649 L249 1644 L253.5 1641 L255 1650 L256.5 1663.5 L259 1678 L262.5 1694 L266 1708 L269 1706 L272 1704 L276 1712 L279.5 1725 L282.5 1738 L285.5 1750 L291 1761 L297 1769.5 L303 1778 L308.5 1785 L315 1791 L322 1796 L339.5 1806 L355 1812 L362 1817 L370.5 1820.5 L386 1829.5 L405 1837 L424.5 1844 L447.5 1848.5 L472.5 1851.5 L474 1853" stroke="#3c54a4" stroke-width="4.2" fill="none" stroke-linejoin="round" stroke-linecap="round"/>
<path d="M206.5 1850.5 L209 1846 L211.5 1837 L214 1820 L216.5 1800 L219 1778 L222 1752 L225 1730 L228 1711 L231 1697 L234.5 1688 L237.5 1681.5 L240.5 1677.5 L244 1679.5 L248 1682 L253 1684 L258 1686 L262.5 1689.5 L266.5 1693 L269 1690 L271.5 1688.3 L273.5 1692 L275 1700 L276.5 1711 L277.5 1723.5 L280.5 1736 L283.5 1747 L287.5 1757 L291.5 1766 L296.5 1775 L302 1783 L309 1790.5 L316 1796.5 L324.5 1801.5 L334 1806 L342 1809 L351 1811.5 L361 1815.5 L370 1819.6 L382 1826 L393.5 1832.5 L405 1837.5 L417.5 1842 L429 1845.5 L441 1848 L456 1850 L472 1851.6" stroke="#000" stroke-width="6" fill="none" stroke-linejoin="round" stroke-linecap="round"/>
<path d="M320.5 1705H336" stroke="#000" stroke-width="4.6" stroke-linecap="round"/>
<circle cx="321" cy="1705" r="3" fill="#000"/>
<circle cx="328.3" cy="1705" r="3" fill="#000"/>
<circle cx="335.5" cy="1705" r="3" fill="#000"/>
<path d="M320.5 1738H336" stroke="#3c54a4" stroke-width="4.5"/>
<text x="372.5" y="1713" font-size="33">Control</text>
<text x="353" y="1744.5" font-size="33">Melatonin</text>
<text x="76" y="1733.6" font-size="33" text-anchor="middle" transform="rotate(-90 76 1733.6)">EEG power dendity in</text>
<text x="113.2" y="1735" font-size="33" text-anchor="middle" transform="rotate(-90 113.2 1735)">NREM sleep (µV² / Hz)</text>
</g>
<defs><clipPath id="bc"><rect x="-5" y="80" width="495.4" height="420"/></clipPath><linearGradient id="ng" x1="0" y1="0" x2="0" y2="1"><stop offset="0" stop-color="#8a8a8a"/><stop offset="1" stop-color="#2a2627"/></linearGradient>
<linearGradient id="ng2" x1="0" y1="0" x2="1" y2="0"><stop offset="0" stop-color="#2a2627"/><stop offset="1" stop-color="#9a9a9a"/></linearGradient></defs>
<g id="panelA">
<g clip-path="url(#bc)">
<path d="M80.0 351.0C78.0 352.8 73.0 359.5 68.0 362.0C63.0 364.5 56.0 366.2 50.0 366.0C44.0 365.8 37.5 364.2 32.0 361.0C26.5 357.8 21.2 352.7 17.0 347.0C12.8 341.3 9.3 334.0 7.0 327.0C4.7 320.0 3.3 311.7 3.0 305.0C2.7 298.3 3.0 292.0 5.0 287.0C7.0 282.0 10.5 278.2 15.0 275.0C19.5 271.8 26.2 269.0 32.0 267.5C37.8 266.0 44.5 265.6 50.0 266.0C55.5 266.4 60.8 267.7 65.0 270.0C69.2 272.3 72.5 276.7 75.0 280.0C77.5 283.3 79.2 288.3 80.0 290.0" stroke="#231f20" stroke-width="4.2" fill="none" stroke-linecap="round" stroke-linejoin="round"/>
<path d="M137.0 356.0C134.2 354.5 125.3 350.2 120.0 347.0C114.7 343.8 110.0 341.2 105.0 337.0C100.0 332.8 93.5 327.3 90.0 322.0C86.5 316.7 85.7 310.3 84.0 305.0C82.3 299.7 80.7 294.5 80.0 290.0C79.3 285.5 79.5 282.2 80.0 278.0C80.5 273.8 81.3 269.0 83.0 265.0C84.7 261.0 87.2 257.2 90.0 254.0C92.8 250.8 95.5 248.3 100.0 246.0C104.5 243.7 110.3 242.2 117.0 240.0C123.7 237.8 130.3 235.3 140.0 233.0C149.7 230.7 165.5 227.7 175.0 226.0C184.5 224.3 188.7 223.9 197.0 223.0C205.3 222.1 207.8 221.3 225.0 220.5C242.2 219.7 274.2 219.1 300.0 218.0C325.8 216.9 362.5 214.5 380.0 214.0C397.5 213.5 398.3 214.0 405.0 215.0C411.7 216.0 415.0 217.5 420.0 220.0C425.0 222.5 430.8 226.3 435.0 230.0C439.2 233.7 442.7 237.8 445.0 242.0C447.3 246.2 448.7 251.7 449.0 255.0C449.3 258.3 448.5 260.2 447.0 262.0C445.5 263.8 441.2 265.3 440.0 266.0" stroke="#231f20" stroke-width="4.2" fill="none" stroke-linecap="round" stroke-linejoin="round"/>
<path d="M440 265L440 274L455 261C457.0 259.7 462.8 254.7 467.0 253.0C471.2 251.3 476.7 250.3 480.0 251.0C483.3 251.7 485.3 253.8 487.0 257.0C488.7 260.2 489.5 265.0 490.0 270.0C490.5 275.0 490.7 281.8 490.0 287.0C489.3 292.2 487.7 296.8 486.0 301.0C484.3 305.2 481.7 309.3 480.0 312.0C478.3 314.7 476.7 316.2 476.0 317.0" stroke="#231f20" stroke-width="4.2" fill="none" stroke-linecap="round" stroke-linejoin="round"/>
<path d="M485 303L490 309" stroke="#231f20" stroke-width="4.2" fill="none" stroke-linecap="round" stroke-linejoin="round"/>
<path d="M474 347L484 351L490 342" stroke="#231f20" stroke-width="3.4" fill="none" stroke-linejoin="round"/>
<path d="M452 373L490 355L490 359L478 366L490 362L490 364L454 378Z" fill="#231f20"/>
<path d="M80.0 351.0C81.7 353.5 86.7 361.2 90.0 366.0C93.3 370.8 95.0 372.7 100.0 380.0C105.0 387.3 113.3 400.0 120.0 410.0C126.7 420.0 133.3 431.3 140.0 440.0C146.7 448.7 153.3 456.0 160.0 462.0C166.7 468.0 174.7 472.8 180.0 476.0C185.3 479.2 187.8 479.5 192.0 481.0C196.2 482.5 201.2 484.5 205.0 485.0C208.8 485.5 212.2 484.1 215.0 484.0C217.8 483.9 219.5 485.5 222.0 484.5C224.5 483.5 226.7 480.1 230.0 478.0C233.3 475.9 237.0 474.0 242.0 472.0C247.0 470.0 253.7 468.0 260.0 466.0C266.3 464.0 273.3 462.2 280.0 460.0C286.7 457.8 294.2 455.3 300.0 453.0C305.8 450.7 311.7 447.8 315.0 446.0C318.3 444.2 319.2 442.7 320.0 442.0" stroke="#231f20" stroke-width="4.2" fill="none" stroke-linecap="round" stroke-linejoin="round"/>
<path d="M320 442L324 450.5L331 451C332.0 450.2 337.8 447.8 342.0 446.0C346.2 444.2 348.7 442.7 355.0 440.0C361.3 437.3 373.3 432.8 380.0 430.0C386.7 427.2 391.3 425.3 395.0 423.0C398.7 420.7 400.8 417.2 402.0 416.0" stroke="#231f20" stroke-width="4.2" fill="none" stroke-linecap="round" stroke-linejoin="round"/>
<path d="M402.0 416.0C401.8 418.0 401.8 424.0 401.0 428.0C400.2 432.0 397.8 436.5 397.5 440.0C397.2 443.5 397.6 446.5 399.0 449.0C400.4 451.5 402.8 453.4 406.0 455.0C409.2 456.6 414.0 457.3 418.0 458.5C422.0 459.7 425.5 460.4 430.0 462.0C434.5 463.6 439.7 465.8 445.0 468.0C450.3 470.2 457.0 473.4 462.0 475.0C467.0 476.6 470.3 477.1 475.0 477.5C479.7 477.9 487.5 477.5 490.0 477.5" stroke="#231f20" stroke-width="4.2" fill="none" stroke-linecap="round" stroke-linejoin="round"/>
<path d="M252 343.5L247 346.5C245.5 343.5 244 341.5 242.5 341C240.5 340.8 238.5 342 238 344C236.5 347 236.3 350 237 353C238 357 240 361 242 365C243.0 366.7 245.6 370.9 248.0 375.4C250.4 379.9 253.0 387.2 256.3 392.0C259.6 396.8 264.1 400.6 268.0 404.0C271.9 407.4 274.7 408.6 280.0 412.5C285.3 416.4 293.8 422.8 300.0 427.5C306.2 432.2 314.2 438.6 317.5 441.0C320.8 443.4 319.6 441.8 320.0 442.0" stroke="#231f20" stroke-width="4.2" fill="none" stroke-linecap="round" stroke-linejoin="round"/>
<path d="M276.0 315.0C277.2 314.2 280.7 312.0 283.0 310.5C285.3 309.0 287.5 307.2 290.0 306.0C292.5 304.8 295.5 303.7 298.0 303.0C300.5 302.3 301.3 301.8 305.0 302.0C308.7 302.2 315.4 303.5 320.0 304.0C324.6 304.5 327.5 305.7 332.5 305.0C337.5 304.3 343.8 301.7 350.0 300.0C356.2 298.3 364.2 297.1 370.0 295.0C375.8 292.9 381.2 290.4 385.0 287.5C388.8 284.6 389.6 280.4 392.5 277.5C395.4 274.6 397.9 272.1 402.5 270.0C407.1 267.9 413.8 266.0 420.0 265.0C426.2 264.0 436.7 264.2 440.0 264.0" stroke="#231f20" stroke-width="4.2" fill="none" stroke-linecap="round" stroke-linejoin="round"/>
<path d="M160.5 379.0C161.0 375.0 163.2 363.2 163.5 355.0C163.8 346.8 163.0 337.2 162.5 330.0C162.0 322.8 160.3 316.7 160.5 312.0C160.7 307.3 161.0 305.3 163.5 302.0C166.0 298.7 171.1 294.8 175.5 292.0C179.9 289.2 181.8 287.5 190.0 285.0C198.2 282.5 215.0 279.5 225.0 277.0C235.0 274.5 241.7 272.7 250.0 270.0C258.3 267.3 266.7 264.0 275.0 261.0C283.3 258.0 292.5 254.6 300.0 252.0C307.5 249.4 313.3 246.8 320.0 245.3C326.7 243.9 333.3 243.3 340.0 243.3C346.7 243.3 353.3 244.3 360.0 245.3C366.7 246.3 376.7 248.8 380.0 249.5" stroke="#231f20" stroke-width="4.2" fill="none" stroke-linecap="round" stroke-linejoin="round"/>
<path d="M380 249.5L386.5 251.5C386 258 382 266 377 271C375 267 372.5 262 369 258C365 254 360 251 354 249.3C345 247.6 330 247.2 319 248.6C309 251 298 257 287 270" stroke="#231f20" stroke-width="4.2" fill="none" stroke-linecap="round" stroke-linejoin="round"/>
<path d="M165.0 337.0C165.1 334.2 164.5 325.0 165.5 320.0C166.5 315.0 167.8 310.8 171.0 307.0C174.2 303.2 178.2 300.0 185.0 297.0C191.8 294.0 204.2 290.8 212.0 289.0C219.8 287.2 226.5 286.5 232.0 286.0C237.5 285.5 242.8 286.0 245.0 286.0" stroke="#231f20" stroke-width="3.8" fill="none" stroke-linecap="round"/>
<path d="M243.5 285L288 270C288.8 282 287.5 296 283 305C279 313 275 321 271.5 328.5C267.5 335 260 341 252 344.5C252.8 330 251.5 314 247 302C245 296 243.5 290 243.5 285Z" fill="#231f20" stroke="#231f20" stroke-width="2" stroke-linejoin="round"/>
<path d="M263.8 330.8C266.5 326.8 270.5 322.3 274 318.8" stroke="#fff" stroke-width="2.6" stroke-linecap="round" fill="none"/>
<path d="M230 373C231.5 382 231.8 392 231 400C229 406 222.5 409.5 219.5 414C218 418 220.5 420.5 224 419C229.5 415.5 232.8 409 232.3 400" stroke="#231f20" stroke-width="3.2" fill="none" stroke-linecap="round" stroke-linejoin="round"/>
<path d="M313.5 395.5C326 389.5 338 383.5 350.5 379C356 378.8 360.5 382 363.5 386.8C356 386.5 350 388 344 390C335 393 326 397 316 400.5Z" fill="#231f20"/>
<g transform="translate(0 0)">
<path d="M197 176V214.5C240 226 360 226 404.5 211.5V176Z" fill="#fff" stroke="#58595b" stroke-width="3.4" stroke-linejoin="round"/>
<path d="M192 175.3C215 168.8 385 167.8 408 173.3C385 182 215 182 192 175.3Z" fill="#414042"/>
</g>
<path d="M301 175C304 140 370 117 444 114" stroke="#231f20" stroke-width="5" fill="none" stroke-linecap="round"/>
<circle cx="444.5" cy="114" r="5" fill="#231f20"/><ellipse cx="301.5" cy="175" rx="5.5" ry="3.8" fill="#231f20"/>
</g>
<text x="222" y="210" font-size="33" style="fill:#231f20">EEG EMG</text>
<text x="137" y="272.5" font-size="33" style="fill:#231f20">mPFC</text>
<path d="M127 90V168" stroke="#231f20" stroke-width="5.2" fill="none"/>
<path d="M127 198L107.2 150L127 166L146.8 150Z" fill="#231f20"/>
<path d="M119 207H138L130.5 286C130 288.5 127 288.5 126.5 286Z" fill="#231f20" stroke="#231f20" stroke-width="2.5" stroke-linejoin="round"/>
<path d="M122.5 214H132L128.3 262Z" fill="url(#ng)"/>
<text x="146" y="31" font-size="33" text-anchor="middle">MN w/o</text>
<text x="146" y="71.5" font-size="33" text-anchor="middle">encapsulation</text>
</g>
<g id="panelE">
<g transform="translate(5.6 1034.5) scale(0.972)" clip-path="url(#bc)">
<path d="M80.0 351.0C78.0 352.8 73.0 359.5 68.0 362.0C63.0 364.5 56.0 366.2 50.0 366.0C44.0 365.8 37.5 364.2 32.0 361.0C26.5 357.8 21.2 352.7 17.0 347.0C12.8 341.3 9.3 334.0 7.0 327.0C4.7 320.0 3.3 311.7 3.0 305.0C2.7 298.3 3.0 292.0 5.0 287.0C7.0 282.0 10.5 278.2 15.0 275.0C19.5 271.8 26.2 269.0 32.0 267.5C37.8 266.0 44.5 265.6 50.0 266.0C55.5 266.4 60.8 267.7 65.0 270.0C69.2 272.3 72.5 276.7 75.0 280.0C77.5 283.3 79.2 288.3 80.0 290.0" stroke="#231f20" stroke-width="4.2" fill="none" stroke-linecap="round" stroke-linejoin="round"/>
<path d="M137.0 356.0C134.2 354.5 125.3 350.2 120.0 347.0C114.7 343.8 110.0 341.2 105.0 337.0C100.0 332.8 93.5 327.3 90.0 322.0C86.5 316.7 85.7 310.3 84.0 305.0C82.3 299.7 80.7 294.5 80.0 290.0C79.3 285.5 79.5 282.2 80.0 278.0C80.5 273.8 81.3 269.0 83.0 265.0C84.7 261.0 87.2 257.2 90.0 254.0C92.8 250.8 95.5 248.3 100.0 246.0C104.5 243.7 110.3 242.2 117.0 240.0C123.7 237.8 130.3 235.3 140.0 233.0C149.7 230.7 165.5 227.7 175.0 226.0C184.5 224.3 188.7 223.9 197.0 223.0C205.3 222.1 207.8 221.3 225.0 220.5C242.2 219.7 274.2 219.1 300.0 218.0C325.8 216.9 362.5 214.5 380.0 214.0C397.5 213.5 398.3 214.0 405.0 215.0C411.7 216.0 415.0 217.5 420.0 220.0C425.0 222.5 430.8 226.3 435.0 230.0C439.2 233.7 442.7 237.8 445.0 242.0C447.3 246.2 448.7 251.7 449.0 255.0C449.3 258.3 448.5 260.2 447.0 262.0C445.5 263.8 441.2 265.3 440.0 266.0" stroke="#231f20" stroke-width="4.2" fill="none" stroke-linecap="round" stroke-linejoin="round"/>
<path d="M440 265L440 274L455 261C457.0 259.7 462.8 254.7 467.0 253.0C471.2 251.3 476.7 250.3 480.0 251.0C483.3 251.7 485.3 253.8 487.0 257.0C488.7 260.2 489.5 265.0 490.0 270.0C490.5 275.0 490.7 281.8 490.0 287.0C489.3 292.2 487.7 296.8 486.0 301.0C484.3 305.2 481.7 309.3 480.0 312.0C478.3 314.7 476.7 316.2 476.0 317.0" stroke="#231f20" stroke-width="4.2" fill="none" stroke-linecap="round" stroke-linejoin="round"/>
<path d="M485 303L490 309" stroke="#231f20" stroke-width="4.2" fill="none" stroke-linecap="round" stroke-linejoin="round"/>
<path d="M474 347L484 351L490 342" stroke="#231f20" stroke-width="3.4" fill="none" stroke-linejoin="round"/>
<path d="M452 373L490 355L490 359L478 366L490 362L490 364L454 378Z" fill="#231f20"/>
<path d="M80.0 351.0C81.7 353.5 86.7 361.2 90.0 366.0C93.3 370.8 95.0 372.7 100.0 380.0C105.0 387.3 113.3 400.0 120.0 410.0C126.7 420.0 133.3 431.3 140.0 440.0C146.7 448.7 153.3 456.0 160.0 462.0C166.7 468.0 174.7 472.8 180.0 476.0C185.3 479.2 187.8 479.5 192.0 481.0C196.2 482.5 201.2 484.5 205.0 485.0C208.8 485.5 212.2 484.1 215.0 484.0C217.8 483.9 219.5 485.5 222.0 484.5C224.5 483.5 226.7 480.1 230.0 478.0C233.3 475.9 237.0 474.0 242.0 472.0C247.0 470.0 253.7 468.0 260.0 466.0C266.3 464.0 273.3 462.2 280.0 460.0C286.7 457.8 294.2 455.3 300.0 453.0C305.8 450.7 311.7 447.8 315.0 446.0C318.3 444.2 319.2 442.7 320.0 442.0" stroke="#231f20" stroke-width="4.2" fill="none" stroke-linecap="round" stroke-linejoin="round"/>
<path d="M320 442L324 450.5L331 451C332.0 450.2 337.8 447.8 342.0 446.0C346.2 444.2 348.7 442.7 355.0 440.0C361.3 437.3 373.3 432.8 380.0 430.0C386.7 427.2 391.3 425.3 395.0 423.0C398.7 420.7 400.8 417.2 402.0 416.0" stroke="#231f20" stroke-width="4.2" fill="none" stroke-linecap="round" stroke-linejoin="round"/>
<path d="M402.0 416.0C401.8 418.0 401.8 424.0 401.0 428.0C400.2 432.0 397.8 436.5 397.5 440.0C397.2 443.5 397.6 446.5 399.0 449.0C400.4 451.5 402.8 453.4 406.0 455.0C409.2 456.6 414.0 457.3 418.0 458.5C422.0 459.7 425.5 460.4 430.0 462.0C434.5 463.6 439.7 465.8 445.0 468.0C450.3 470.2 457.0 473.4 462.0 475.0C467.0 476.6 470.3 477.1 475.0 477.5C479.7 477.9 487.5 477.5 490.0 477.5" stroke="#231f20" stroke-width="4.2" fill="none" stroke-linecap="round" stroke-linejoin="round"/>
<path d="M252 343.5L247 346.5C245.5 343.5 244 341.5 242.5 341C240.5 340.8 238.5 342 238 344C236.5 347 236.3 350 237 353C238 357 240 361 242 365C243.0 366.7 245.6 370.9 248.0 375.4C250.4 379.9 253.0 387.2 256.3 392.0C259.6 396.8 264.1 400.6 268.0 404.0C271.9 407.4 274.7 408.6 280.0 412.5C285.3 416.4 293.8 422.8 300.0 427.5C306.2 432.2 314.2 438.6 317.5 441.0C320.8 443.4 319.6 441.8 320.0 442.0" stroke="#231f20" stroke-width="4.2" fill="none" stroke-linecap="round" stroke-linejoin="round"/>
<path d="M276.0 315.0C277.2 314.2 280.7 312.0 283.0 310.5C285.3 309.0 287.5 307.2 290.0 306.0C292.5 304.8 295.5 303.7 298.0 303.0C300.5 302.3 301.3 301.8 305.0 302.0C308.7 302.2 315.4 303.5 320.0 304.0C324.6 304.5 327.5 305.7 332.5 305.0C337.5 304.3 343.8 301.7 350.0 300.0C356.2 298.3 364.2 297.1 370.0 295.0C375.8 292.9 381.2 290.4 385.0 287.5C388.8 284.6 389.6 280.4 392.5 277.5C395.4 274.6 397.9 272.1 402.5 270.0C407.1 267.9 413.8 266.0 420.0 265.0C426.2 264.0 436.7 264.2 440.0 264.0" stroke="#231f20" stroke-width="4.2" fill="none" stroke-linecap="round" stroke-linejoin="round"/>
<path d="M160.5 379.0C161.0 375.0 163.2 363.2 163.5 355.0C163.8 346.8 163.0 337.2 162.5 330.0C162.0 322.8 160.3 316.7 160.5 312.0C160.7 307.3 161.0 305.3 163.5 302.0C166.0 298.7 171.1 294.8 175.5 292.0C179.9 289.2 181.8 287.5 190.0 285.0C198.2 282.5 215.0 279.5 225.0 277.0C235.0 274.5 241.7 272.7 250.0 270.0C258.3 267.3 266.7 264.0 275.0 261.0C283.3 258.0 292.5 254.6 300.0 252.0C307.5 249.4 313.3 246.8 320.0 245.3C326.7 243.9 333.3 243.3 340.0 243.3C346.7 243.3 353.3 244.3 360.0 245.3C366.7 246.3 376.7 248.8 380.0 249.5" stroke="#231f20" stroke-width="4.2" fill="none" stroke-linecap="round" stroke-linejoin="round"/>
<path d="M380 249.5L386.5 251.5C386 258 382 266 377 271C375 267 372.5 262 369 258C365 254 360 251 354 249.3C345 247.6 330 247.2 319 248.6C309 251 298 257 287 270" stroke="#231f20" stroke-width="4.2" fill="none" stroke-linecap="round" stroke-linejoin="round"/>
<path d="M165.0 337.0C165.1 334.2 164.5 325.0 165.5 320.0C166.5 315.0 167.8 310.8 171.0 307.0C174.2 303.2 178.2 300.0 185.0 297.0C191.8 294.0 204.2 290.8 212.0 289.0C219.8 287.2 226.5 286.5 232.0 286.0C237.5 285.5 242.8 286.0 245.0 286.0" stroke="#231f20" stroke-width="3.8" fill="none" stroke-linecap="round"/>
<path d="M243.5 285L288 270C288.8 282 287.5 296 283 305C279 313 275 321 271.5 328.5C267.5 335 260 341 252 344.5C252.8 330 251.5 314 247 302C245 296 243.5 290 243.5 285Z" fill="#231f20" stroke="#231f20" stroke-width="2" stroke-linejoin="round"/>
<path d="M263.8 330.8C266.5 326.8 270.5 322.3 274 318.8" stroke="#fff" stroke-width="2.6" stroke-linecap="round" fill="none"/>
<path d="M230 373C231.5 382 231.8 392 231 400C229 406 222.5 409.5 219.5 414C218 418 220.5 420.5 224 419C229.5 415.5 232.8 409 232.3 400" stroke="#231f20" stroke-width="3.2" fill="none" stroke-linecap="round" stroke-linejoin="round"/>
<path d="M313.5 395.5C326 389.5 338 383.5 350.5 379C356 378.8 360.5 382 363.5 386.8C356 386.5 350 388 344 390C335 393 326 397 316 400.5Z" fill="#231f20"/>
<g transform="translate(1.8 8.6)">
<path d="M197 176V214.5C240 226 360 226 404.5 211.5V176Z" fill="#fff" stroke="#58595b" stroke-width="3.4" stroke-linejoin="round"/>
<path d="M192 175.3C215 168.8 385 167.8 408 173.3C385 182 215 182 192 175.3Z" fill="#414042"/>
</g>
<path d="M301 175C304 140 370 117 444 114" stroke="#231f20" stroke-width="5" fill="none" stroke-linecap="round"/>
<circle cx="444.5" cy="114" r="5" fill="#231f20"/><ellipse cx="301.5" cy="175" rx="5.5" ry="3.8" fill="#231f20"/>
</g>
<text x="232" y="1245.5" font-size="33" style="fill:#231f20">EEG EMG</text>
<text x="150.8" y="1297.5" font-size="33" style="fill:#231f20">mPFC</text>
<path d="M132.1 1116V1189.7" stroke="#231f20" stroke-width="6.3" fill="none"/>
<path d="M132.1 1219.7L112.1 1171.7L132.1 1187.7L152.1 1171.7Z" fill="#231f20"/>
<path d="M124.5 1234.5H142L134.3 1311C134 1313.5 131.2 1313.5 130.9 1311Z" fill="#fdc52f" stroke="#fdc52f" stroke-width="2.5" stroke-linejoin="round"/>
<path d="M130 1240H137L133.6 1271Z" fill="url(#ng2)"/>
<text x="61.5" y="1066" font-size="33">MN w/ Au</text>
<text x="131" y="1105.5" font-size="33" text-anchor="middle">encapsulation</text>
</g>
</svg></body></html>
